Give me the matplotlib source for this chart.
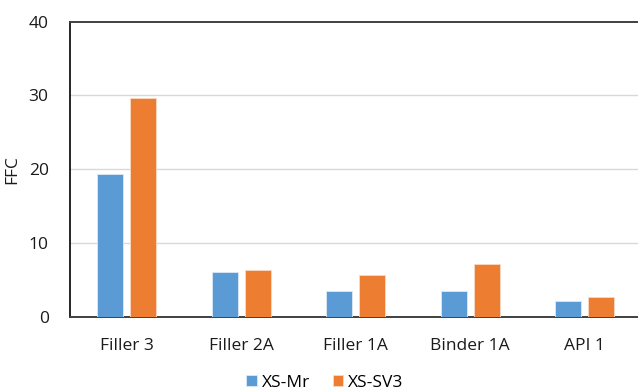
import matplotlib
matplotlib.use("Agg")
import matplotlib.pyplot as plt
import numpy as np

categories = ["Filler 3", "Filler 2A", "Filler 1A", "Binder 1A", "API 1"]
xs_mr = [19.4, 6.0, 3.5, 3.5, 2.1]
xs_sv3 = [29.7, 6.4, 5.7, 7.1, 2.7]
series_names = ["XS-Mr", "XS-SV3"]
y_ticks = [0, 10, 20, 30, 40]

plt.rcParams['font.family'] = ['Open Sans', 'DejaVu Sans']

W, H = 638, 390
fig = plt.figure(figsize=(W / 100, H / 100), dpi=100)
left, right, top, bottom = 69.5, 642.0, 21.7, 316.7
ax = fig.add_axes([left / W, 1 - bottom / H, (right - left) / W, (bottom - top) / H])

x = np.arange(len(categories))
bw = 0.227
off = 0.145
blue = "#5B9BD5"
orange = "#ED7D31"
b1 = ax.bar(x - off, xs_mr, width=bw, color=blue, edgecolor="#DCE9F5", linewidth=0.6, zorder=3)
b2 = ax.bar(x + off, xs_sv3, width=bw, color=orange, edgecolor="#F9D9C5", linewidth=0.6, zorder=3)

ax.set_xlim(-0.5, len(categories) - 0.5)
ax.set_ylim(0, 40)
ax.set_yticks(y_ticks)
ax.set_xticks(x)
ax.set_xticklabels(categories)
fs = 12.5
ax.tick_params(axis='both', length=0, labelsize=fs, colors="#1a1a1a")
ax.tick_params(axis='x', pad=15)
ax.tick_params(axis='y', pad=15)

for v in y_ticks[1:-1]:
    ax.axhline(v, color="#D9D9D9", linewidth=1.0, zorder=1)

ax.spines['right'].set_visible(False)
ax.spines['left'].set_color("black")
ax.spines['left'].set_linewidth(1.2)
ax.spines['top'].set_color("#404040")
ax.spines['top'].set_linewidth(1.4)
ax.spines['bottom'].set_color("#404040")
ax.spines['bottom'].set_linewidth(1.4)

ax.set_ylabel("FFC", fontsize=fs, color="#1a1a1a", labelpad=6)

fig.legend([b1, b2], series_names, loc="center", bbox_to_anchor=(325 / W, 1 - 383 / H),
           ncol=2, frameon=False, fontsize=fs, handlelength=0.6, handleheight=0.6,
           handletextpad=0.3, columnspacing=1.3, borderpad=0)

fig.savefig("out.png", dpi=100)
